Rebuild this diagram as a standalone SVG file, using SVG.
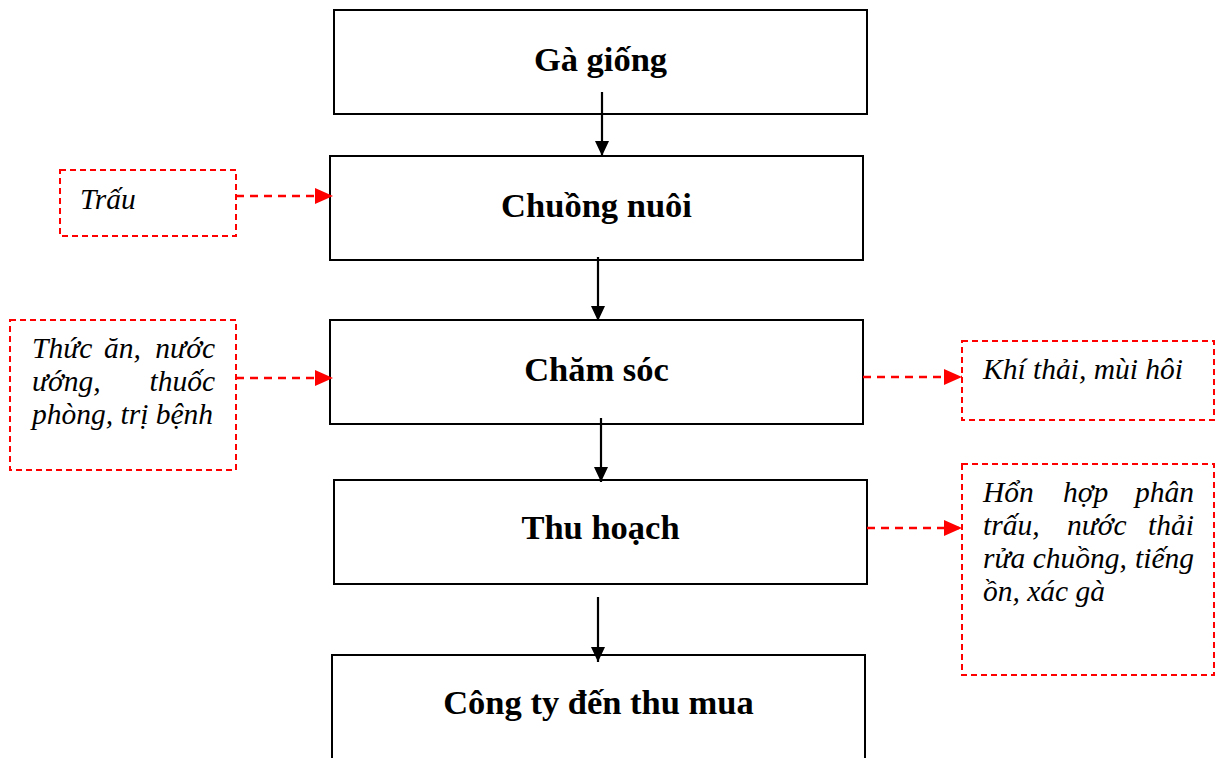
<svg xmlns="http://www.w3.org/2000/svg" width="1217" height="758" viewBox="0 0 1217 758">
<style>
.box{fill:#fff;stroke:#000;stroke-width:2}
.rbox{fill:none;stroke:#f00;stroke-width:2;stroke-dasharray:6 4}
.lbl{font-family:"Liberation Serif","Times New Roman",serif;font-weight:bold;font-size:34.5px;fill:#000;text-anchor:middle}
.it{font-family:"Liberation Serif","Times New Roman",serif;font-style:italic;font-size:29.5px;fill:#000}
.e{text-anchor:end}
.blk{stroke:#000;stroke-width:2.2;fill:none}
.red{stroke:#f00;stroke-width:2.5;stroke-dasharray:8 6;fill:none}
</style>
<defs>
<marker id="ab" markerWidth="15" markerHeight="14" refX="15" refY="7" orient="auto" markerUnits="userSpaceOnUse" viewBox="0 0 15 14"><path d="M0,0 L15,7 L0,14 Z" fill="#000"/></marker>
<marker id="ar" markerWidth="18" markerHeight="16" refX="18" refY="8" orient="auto" markerUnits="userSpaceOnUse" viewBox="0 0 18 16"><path d="M0,0 L18,8 L0,16 Z" fill="#f00"/></marker>
</defs>
<g id="n1"><rect class="box" x="334" y="10" width="533" height="104"/><text class="lbl" x="600.5" y="71">Gà giống</text></g>
<g id="n2"><rect class="box" x="330" y="156" width="533" height="104"/><text class="lbl" x="596.5" y="217">Chuồng nuôi</text></g>
<g id="n3"><rect class="box" x="330" y="320" width="533" height="104"/><text class="lbl" x="596.5" y="381">Chăm sóc</text></g>
<g id="n4"><rect class="box" x="334" y="480" width="533" height="104"/><text class="lbl" x="600.5" y="539">Thu hoạch</text></g>
<g id="n5"><rect class="box" x="332" y="655" width="533" height="110"/><text class="lbl" x="598.5" y="714">Công ty đến thu mua</text></g>
<g id="s1"><rect class="rbox" x="60" y="170" width="176" height="66"/><text class="it" x="80" y="209">Trấu</text></g>
<g id="s2"><rect class="rbox" x="10" y="320" width="226" height="150"/>
<text class="it" x="32" y="358">Thức</text><text class="it" x="104" y="358">ăn,</text><text class="it e" x="215" y="358">nước</text>
<text class="it" x="32" y="391">ướng,</text><text class="it e" x="215" y="391">thuốc</text>
<text class="it" x="32" y="424">phòng, trị bệnh</text></g>
<g id="s3"><rect class="rbox" x="962" y="341" width="252" height="79"/><text class="it" x="983" y="379">Khí thải, mùi hôi</text></g>
<g id="s4"><rect class="rbox" x="962" y="464" width="252" height="211"/>
<text class="it" x="983" y="502">Hổn</text><text class="it" x="1063" y="502">hợp</text><text class="it e" x="1194" y="502">phân</text>
<text class="it" x="983" y="535">trấu,</text><text class="it" x="1067" y="535">nước</text><text class="it e" x="1194" y="535">thải</text>
<text class="it" x="983" y="568">rửa chuồng,</text><text class="it e" x="1194" y="568">tiếng</text>
<text class="it" x="983" y="601">ồn, xác gà</text></g>
<g id="connectors">
<line class="blk" x1="602" y1="92" x2="602" y2="156" marker-end="url(#ab)"/>
<line class="blk" x1="598" y1="257" x2="598" y2="321" marker-end="url(#ab)"/>
<line class="blk" x1="601" y1="418" x2="601" y2="482" marker-end="url(#ab)"/>
<line class="blk" x1="598" y1="597" x2="598" y2="662" marker-end="url(#ab)"/>
<line class="red" x1="236" y1="196" x2="333" y2="196" marker-end="url(#ar)"/>
<line class="red" x1="236" y1="378" x2="333" y2="378" marker-end="url(#ar)"/>
<line class="red" x1="863" y1="377" x2="962" y2="377" marker-end="url(#ar)"/>
<line class="red" x1="867" y1="528" x2="962" y2="528" marker-end="url(#ar)"/>
</g>
</svg>
